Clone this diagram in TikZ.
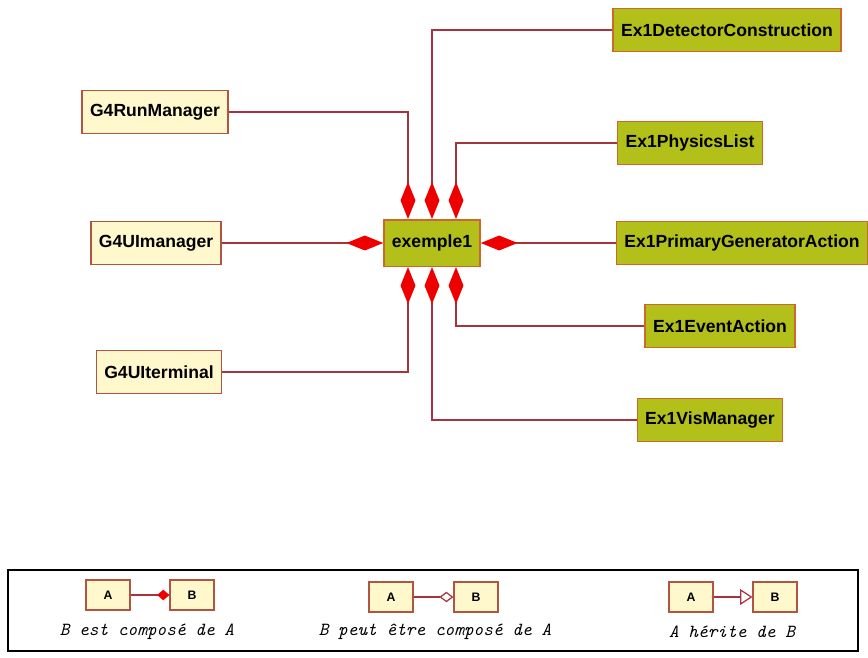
\documentclass[tikz,border=0pt]{standalone}
\usepackage{fontspec}
\setmainfont{Liberation Sans}
\usetikzlibrary{arrows.meta,calc}
\definecolor{g4fill}{RGB}{255,248,204}
\definecolor{g4line}{RGB}{178,84,66}
\definecolor{exfill}{RGB}{180,192,26}
\definecolor{exline}{RGB}{204,104,44}
\definecolor{linkcol}{RGB}{165,52,62}
\definecolor{diamred}{RGB}{238,0,0}
\begin{document}
\begin{tikzpicture}[x=0.02cm,y=-0.02cm,
	g4box/.style={draw=g4line, fill=g4fill, line width=0.9pt, font=\bfseries\fontsize{10}{12}\selectfont, inner xsep=4.5pt, minimum height=24.5pt},
	exbox/.style={g4box, draw=exline, fill=exfill},
	comp/.style={draw=linkcol, line width=0.8pt, -{Diamond[length=21pt,width=8.5pt,color=diamred]}},
	legbox/.style={draw=g4line, fill=g4fill, line width=0.7pt, font=\bfseries\fontsize{7}{8}\selectfont, minimum width=25pt, minimum height=17pt},
	legtext/.style={font=\ttfamily\itshape\fontsize{10.5}{12}\selectfont}]
	\useasboundingbox (0,0) rectangle (868,657);
	% classes
	\node[exbox, minimum height=26.5pt] (ex) at (432,243) {exemple1};
	\node[g4box] (run) at (155,112) {G4RunManager};
	\node[g4box] (uimgr) at (156,243) {G4UImanager};
	\node[g4box] (uiterm) at (159,372) {G4UIterminal};
	\node[exbox] (det) at (727,30) {Ex1DetectorConstruction};
	\node[exbox] (phys) at (690,143) {Ex1PhysicsList};
	\node[exbox] (prim) at (742,243) {Ex1PrimaryGeneratorAction};
	\node[exbox] (evt) at (720,326) {Ex1EventAction};
	\node[exbox] (vis) at (710,420) {Ex1VisManager};
	% ends on exemple1
	\coordinate (top1) at ($(ex.north)+(-24,0)$);
	\coordinate (top3) at ($(ex.north)+(24,0)$);
	\coordinate (bot1) at ($(ex.south)+(-24,0)$);
	\coordinate (bot3) at ($(ex.south)+(24,0)$);
	\draw[comp] (run.east) -| (top1);
	\draw[comp] (det.west) -| (ex.north);
	\draw[comp] (phys.west) -| (top3);
	\draw[comp] (uimgr.east) -- (ex.west);
	\draw[comp] (prim.west) -- (ex.east);
	\draw[comp] (uiterm.east) -| (bot1);
	\draw[comp] (vis.west) -| (ex.south);
	\draw[comp] (evt.west) -| (bot3);
	% legend
	\draw[line width=1pt] (8,570) rectangle (858,651);
	\node[legbox] (a1) at (108,595) {A};
	\node[legbox] (b1) at (192,595) {B};
	\node[legbox] (a2) at (391,597) {A};
	\node[legbox] (b2) at (476,597) {B};
	\node[legbox] (a3) at (691,597) {A};
	\node[legbox] (b3) at (775,597) {B};
	\draw[draw=linkcol, line width=0.7pt, -{Diamond[length=7pt,width=6pt,color=diamred]}] (a1) -- (b1);
	\draw[draw=linkcol, line width=0.7pt, -{Diamond[open,length=8pt,width=6pt,fill=white]}] (a2) -- (b2);
	\draw[draw=linkcol, line width=0.7pt, -{Triangle[open,length=7pt,width=9pt,fill=white]}] (a3) -- (b3);
	\node[legtext] (lab1) at (147,632) {B est composé de A};
	\node[legtext] (lab2) at (435,632) {B peut être composé de A};
	\node[legtext] (lab3) at (732,632) {A hérite de B};
\end{tikzpicture}
\end{document}
